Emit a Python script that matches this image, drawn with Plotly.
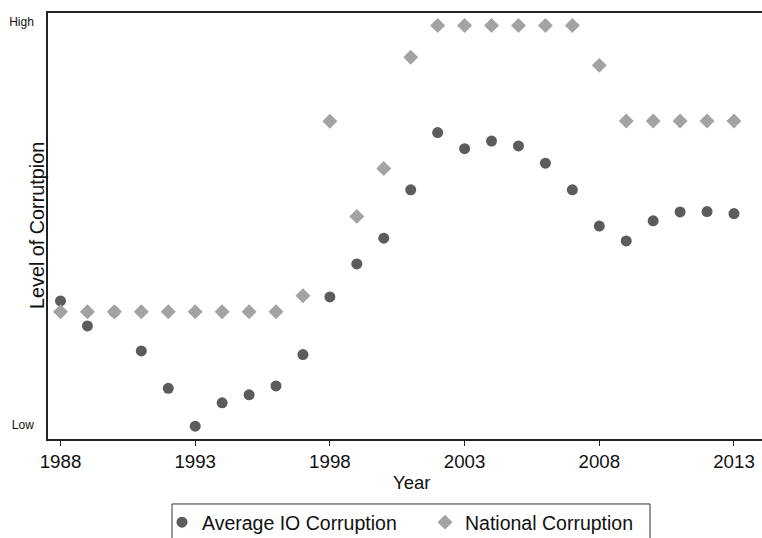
import plotly.graph_objects as go

years = list(range(1988, 2014))
# Ordinal level scale: 0 = Low, 10 = High
avg_io_corruption = [3.08, 2.46, 2.81, 1.84, 0.91, -0.03, 0.55, 0.75, 0.97, 1.75,
                     3.18, 4.00, 4.64, 5.84, 7.26, 6.86, 7.05, 6.93, 6.50, 5.84,
                     4.94, 4.57, 5.07, 5.29, 5.30, 5.25]
national_corruption = [2.81, 2.81, 2.81, 2.81, 2.81, 2.81, 2.81, 2.81, 2.81, 3.21,
                       7.54, 5.18, 6.37, 9.13, 9.92, 9.92, 9.92, 9.92, 9.92, 9.92,
                       8.93, 7.55, 7.55, 7.55, 7.55, 7.55]
x_ticks = [1988, 1993, 1998, 2003, 2008, 2013]
y_tickvals = [0, 10]
y_ticktext = ["Low", "High"]

FONT = "Liberation Sans, Arial, Helvetica, sans-serif"

# plot area in pixels: x 48..762, y 12.7..439
PL, PR, PT, PB = 48.0, 762.0, 12.7, 439.0
def px(xp):
    return (xp - PL) / (PR - PL)
def py(yp):
    return (PB - yp) / (PB - PT)

fig = go.Figure()
fig.add_trace(go.Scatter(
    x=years, y=avg_io_corruption, mode="markers", name="Average IO Corruption",
    marker=dict(symbol="circle", size=11, color="#5c5c5c", line=dict(width=0)),
    legend="legend",
))
fig.add_trace(go.Scatter(
    x=years, y=national_corruption, mode="markers", name="National Corruption",
    marker=dict(symbol="diamond", size=11.5, color="#a3a3a3", line=dict(width=0)),
    legend="legend2",
))

leg_common = dict(orientation="h", yanchor="top", borderwidth=0,
                  bgcolor="rgba(0,0,0,0)", font=dict(size=19.5, family=FONT))

fig.update_layout(
    width=762, height=538,
    margin=dict(l=48, r=0, t=13, b=99, autoexpand=False),
    paper_bgcolor="white", plot_bgcolor="white",
    font=dict(family=FONT, color="#111111"),
    showlegend=True,
    legend=dict(x=px(162), xanchor="left", y=py(503), **leg_common),
    legend2=dict(x=px(425), xanchor="left", y=py(503), **leg_common),
    xaxis=dict(
        range=[1987.536, 2014.04], tickvals=x_ticks, ticks="outside", ticklen=5,
        tickwidth=1, tickcolor="#222222", showgrid=False, zeroline=False,
        showline=True, linecolor="#222222", linewidth=1.5, mirror=True,
        tickfont=dict(size=18.7, family=FONT), ticklabelstandoff=0, automargin=False,
    ),
    yaxis=dict(
        range=[-0.347, 10.23], tickvals=y_tickvals, ticktext=y_ticktext, ticks="",
        showgrid=False, zeroline=False, showline=True, linecolor="#222222",
        linewidth=1.5, tickfont=dict(size=12, family=FONT), ticklabelstandoff=10,
        automargin=False,
    ),
    shapes=[
        dict(type="rect", xref="paper", yref="paper",
             x0=px(172), x1=px(650), y0=py(504), y1=py(545),
             line=dict(color="#333333", width=1), fillcolor="rgba(0,0,0,0)",
             layer="above"),
    ],
    annotations=[
        dict(text="Year", xref="paper", yref="paper", x=px(411), y=py(483),
             xanchor="center", yanchor="middle", showarrow=False,
             font=dict(size=18.5, family=FONT)),
        dict(text="Level of Corrutpion", xref="paper", yref="paper", x=px(37), y=0.5,
             xanchor="center", yanchor="middle", textangle=-90, showarrow=False,
             font=dict(size=19.8, family=FONT)),
    ],
)

fig.write_html(
    "out.html",
    config={"displayModeBar": False},
    post_script="document.body.style.margin='0';document.body.style.overflow='hidden';",
)
